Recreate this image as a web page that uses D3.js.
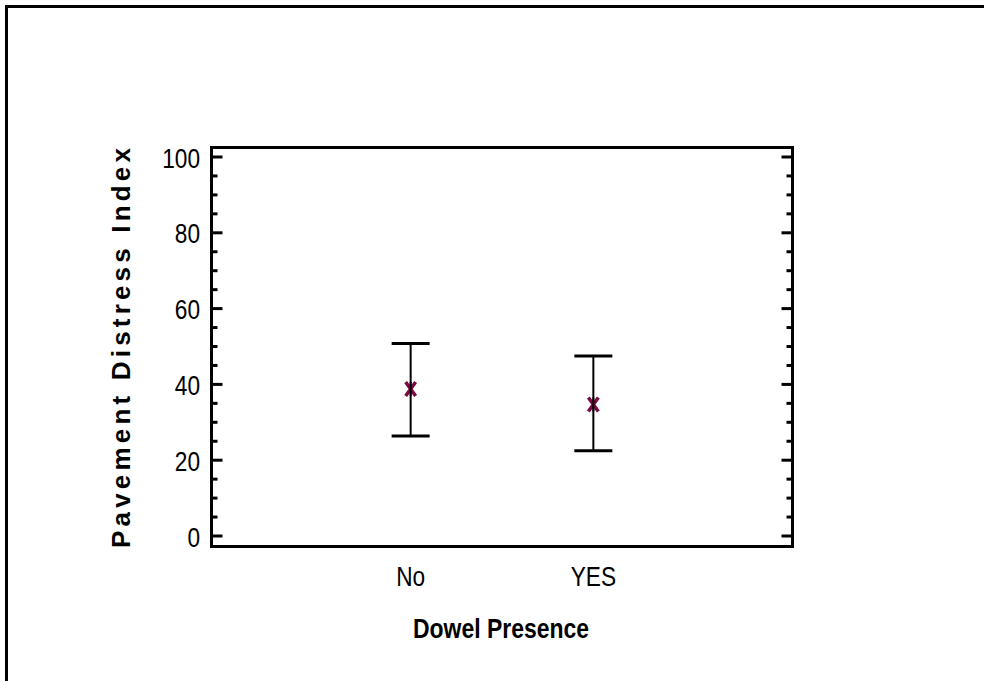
<!DOCTYPE html>
<html>
<head>
<meta charset="utf-8">
<script src="https://cdn.jsdelivr.net/npm/d3@7"></script>
<style>
  html, body { margin: 0; padding: 0; background: #fff; }
  svg { display: block; }
</style>
</head>
<body>
<svg id="chart" width="984" height="681"></svg>
<script>
// Dowel presence groups and their means with interval bounds
const categories = ["No", "YES"];
const means = [38.8, 34.7];
const upperBounds = [50.8, 47.5];
const lowerBounds = [26.4, 22.5];
const yMajorTicks = [0, 20, 40, 60, 80, 100];
const yMinorTicks = d3.range(0, 101, 5);

const svg = d3.select("#chart");
const W = 984, H = 681;

// outer frame (top and left edges)
svg.append("path")
  .attr("d", `M6.5,${H} L6.5,6.5 L${W},6.5`)
  .attr("fill", "none").attr("stroke", "#000").attr("stroke-width", 3);

const plot = { left: 211.5, right: 792.5, top: 147.5, bottom: 546.5 };

const y = d3.scaleLinear().domain([0, 100]).range([536, 157]);
const x = d3.scalePoint().domain(categories)
  .range([plot.left, plot.right]).padding(1.09);

const g = svg.append("g");

// plot frame
g.append("rect")
  .attr("x", plot.left).attr("y", plot.top)
  .attr("width", plot.right - plot.left).attr("height", plot.bottom - plot.top)
  .attr("fill", "none").attr("stroke", "#000").attr("stroke-width", 3);

// inward ticks on left and right axes
const tickLen = v => (v % 20 === 0 ? 11 : 6);
g.selectAll(".tl").data(yMinorTicks).join("line")
  .attr("x1", plot.left).attr("x2", v => plot.left + tickLen(v))
  .attr("y1", v => y(v)).attr("y2", v => y(v))
  .attr("stroke", "#000").attr("stroke-width", 3);
g.selectAll(".tr").data(yMinorTicks).join("line")
  .attr("x1", plot.right).attr("x2", v => plot.right - tickLen(v))
  .attr("y1", v => y(v)).attr("y2", v => y(v))
  .attr("stroke", "#000").attr("stroke-width", 3);

const sans = "'Liberation Sans', Arial, sans-serif";
const squeeze = 0.84;

// y tick labels (condensed)
g.selectAll(".yl").data(yMajorTicks).join("text")
  .attr("transform", v => `translate(200,${y(v) + 10.5}) scale(${squeeze},1)`)
  .attr("text-anchor", "end")
  .attr("font-family", sans).attr("font-size", 27)
  .text(v => v);

// x category labels (condensed)
g.selectAll(".xl").data(categories).join("text")
  .attr("transform", d => `translate(${x(d)},586) scale(${squeeze},1)`)
  .attr("text-anchor", "middle")
  .attr("font-family", sans).attr("font-size", 27)
  .text(d => d);

// axis titles
svg.append("text")
  .attr("transform", `translate(501,638) scale(0.82,1)`)
  .attr("text-anchor", "middle")
  .attr("font-family", sans).attr("font-size", 28).attr("font-weight", "bold")
  .text("Dowel Presence");

svg.append("text")
  .attr("transform", "translate(130,348) rotate(-90)")
  .attr("text-anchor", "middle")
  .attr("font-family", sans)
  .attr("font-size", 26).attr("font-weight", "bold")
  .attr("textLength", 400).attr("lengthAdjust", "spacing")
  .text("Pavement Distress Index");

// interval bars
const capHalf = 19;
const bars = g.selectAll(".bar").data(categories).join("g");
bars.append("line")
  .attr("x1", d => x(d)).attr("x2", d => x(d))
  .attr("y1", (d, i) => y(upperBounds[i])).attr("y2", (d, i) => y(lowerBounds[i]))
  .attr("stroke", "#000").attr("stroke-width", 2);
bars.append("line")
  .attr("x1", d => x(d) - capHalf).attr("x2", d => x(d) + capHalf)
  .attr("y1", (d, i) => y(upperBounds[i])).attr("y2", (d, i) => y(upperBounds[i]))
  .attr("stroke", "#000").attr("stroke-width", 3);
bars.append("line")
  .attr("x1", d => x(d) - capHalf).attr("x2", d => x(d) + capHalf)
  .attr("y1", (d, i) => y(lowerBounds[i])).attr("y2", (d, i) => y(lowerBounds[i]))
  .attr("stroke", "#000").attr("stroke-width", 3);

// mean markers: maroon crosses with the bar running through them
const mx = 5, my = 7;
bars.append("path")
  .attr("d", (d, i) => {
    const cx = x(d), cy = y(means[i]);
    return `M${cx - mx},${cy - my}L${cx + mx},${cy + my}M${cx - mx},${cy + my}L${cx + mx},${cy - my}`;
  })
  .attr("stroke", "#7a0a45").attr("stroke-width", 3.5).attr("fill", "none");
bars.append("line")
  .attr("x1", d => x(d)).attr("x2", d => x(d))
  .attr("y1", (d, i) => y(means[i]) - my).attr("y2", (d, i) => y(means[i]) + my)
  .attr("stroke", "#000").attr("stroke-width", 2);
</script>
</body>
</html>
